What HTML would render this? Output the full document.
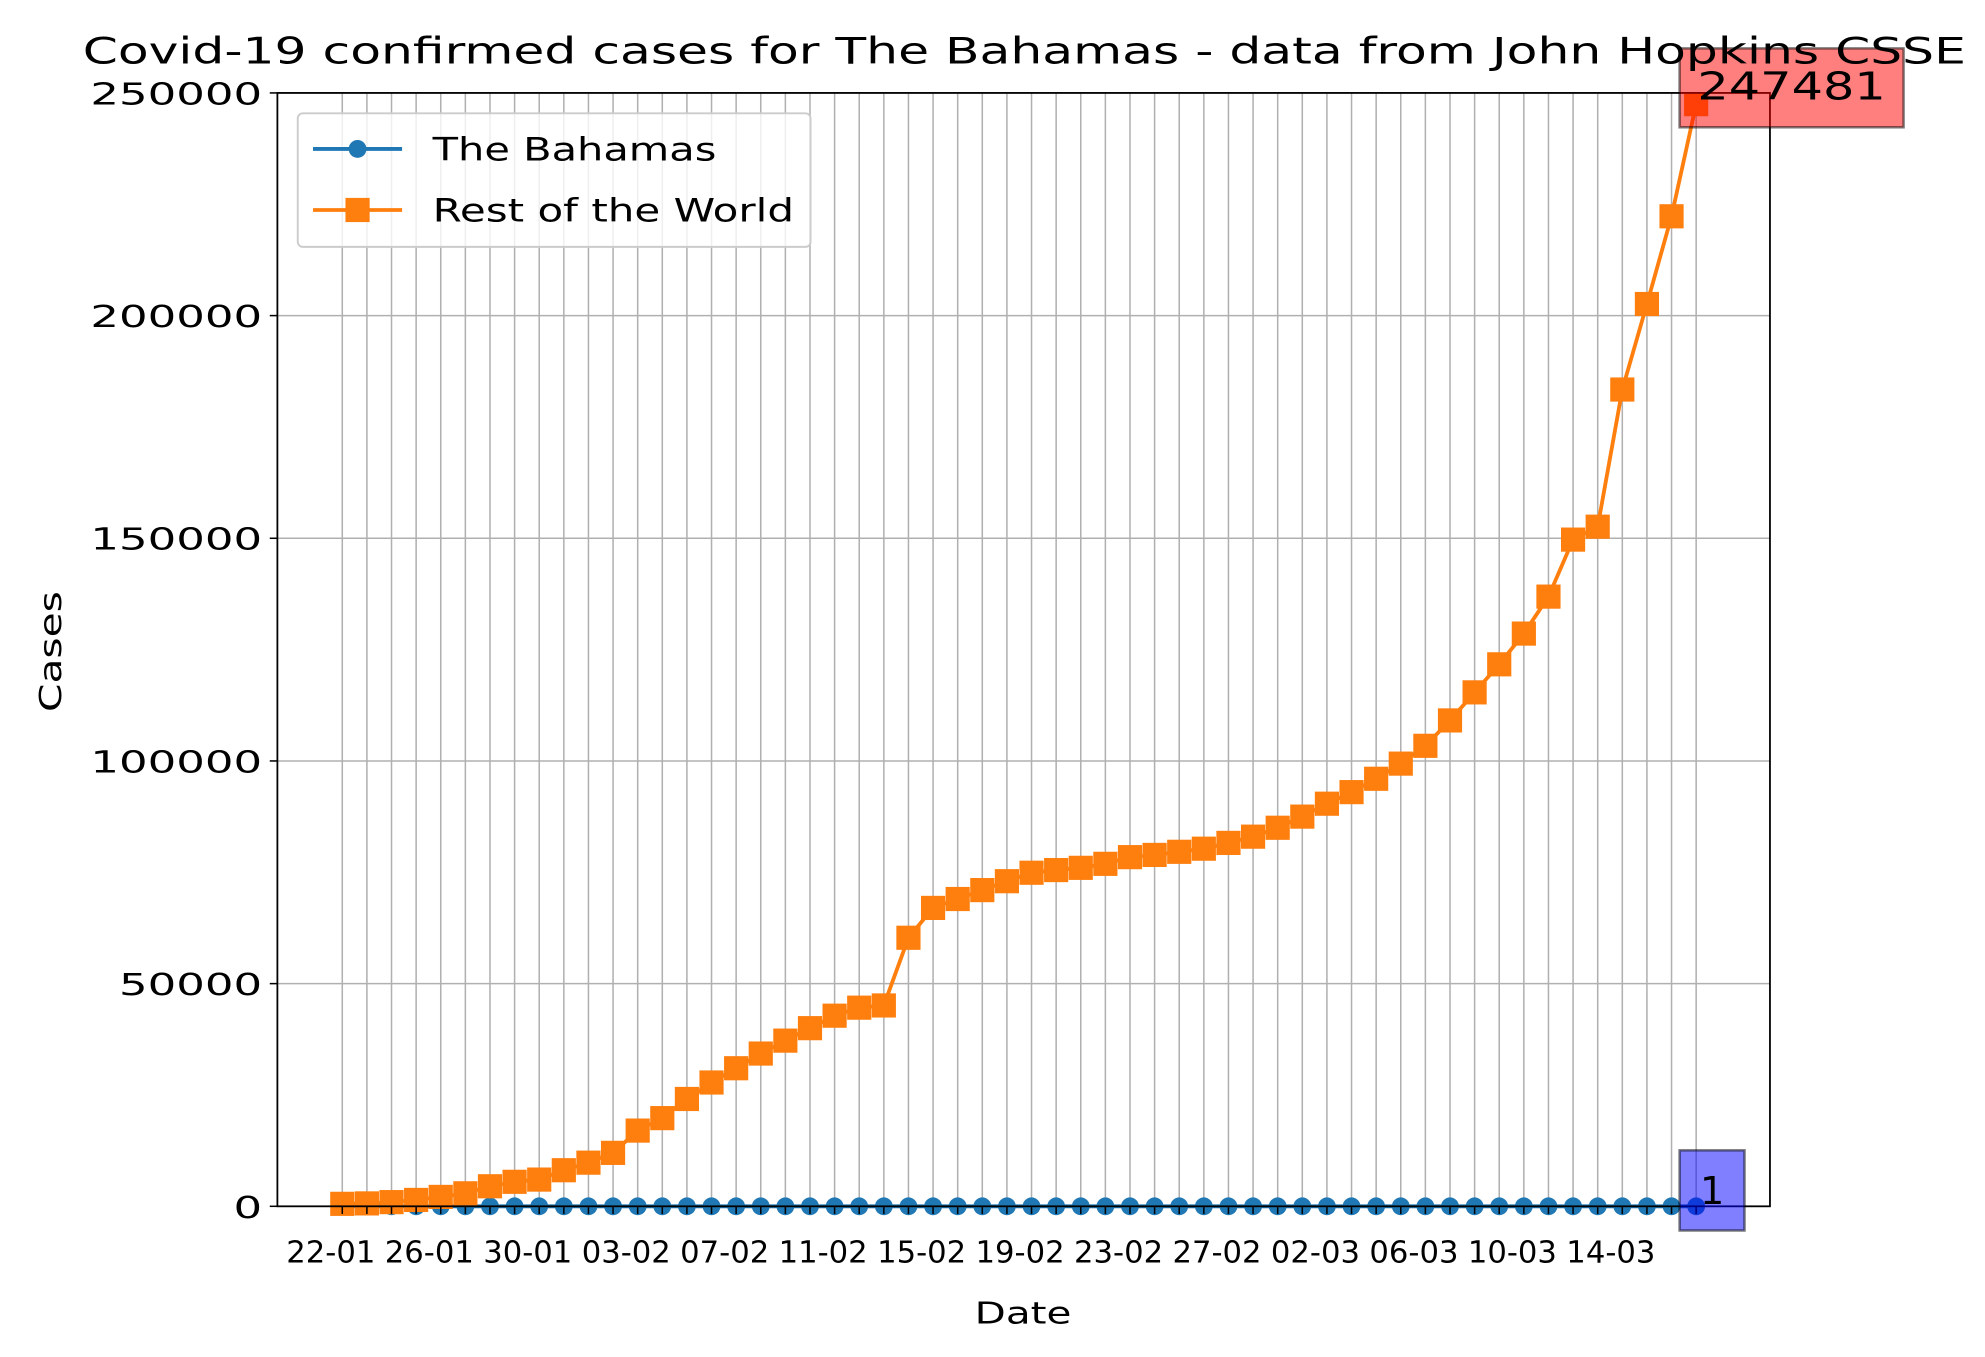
<!DOCTYPE html>
<html><head><meta charset="utf-8"><style>html,body{margin:0;padding:0;background:#fff}svg{display:block}text{font-family:"DejaVu Sans","Liberation Sans",sans-serif}</style></head>
<body>
<svg id="chart" width="1985" height="1357" viewBox="0 0 1560 1066.4" xmlns="http://www.w3.org/2000/svg">
<rect width="1560" height="1067" fill="#fff"/>
<g id="grid"></g>
<g id="series"></g>
<g id="axes"></g>
</svg>
<script>
const dates = [];
const bahamas = [];
const restOfWorld = [555,650,940,1430,2110,2920,4500,5500,6000,8100,9800,12000,17000,19800,24100,27800,31000,34300,37200,40000,42800,44600,45100,60300,67000,69000,71000,73000,74900,75500,76000,76900,78400,78900,79600,80300,81600,83000,85000,87500,90400,93000,96000,99400,103400,109100,115400,121700,128600,136900,149700,152600,183400,202600,222300,247481];
const yTicks = [0,50000,100000,150000,200000,250000];
(function(){const d=new Date(2020,0,22);for(let i=0;i<56;i++){const x=new Date(d.getTime()+i*86400000);dates.push(String(x.getDate()).padStart(2,'0')+'-'+String(x.getMonth()+1).padStart(2,'0'));bahamas.push(i===55?1:0);}})();
const L=218,R=1391,T=73,B=948;
const n=dates.length;
const X=i=>269+i*(1333-269)/(n-1);
const Y=v=>B-v/250000*(B-T);
const NS='http://www.w3.org/2000/svg';
function mk(tag,attrs,parent,txt){const e=document.createElementNS(NS,tag);for(const k in attrs)e.setAttribute(k,attrs[k]);if(txt!==undefined)e.textContent=txt;parent.appendChild(e);return e;}
const grid=document.getElementById('grid'),series=document.getElementById('series'),axes=document.getElementById('axes');
dates.forEach((d,i)=>{const l=mk('line',{x1:X(i),x2:X(i),y1:T,y2:B,stroke:'#b0b0b0','stroke-width':1.2},grid);


const t=mk('line',{x1:X(i),x2:X(i),y1:B,y2:B+6,stroke:'#000','stroke-width':1.2},axes);


if(i%4===0){const tx=mk('text',{x:X(i)-9,y:B+44,'text-anchor':'middle','font-size':24,textLength:70,lengthAdjust:'spacingAndGlyphs'},axes,d);

}});
yTicks.forEach(v=>{const l=mk('line',{x1:L,x2:R,y1:Y(v),y2:Y(v),stroke:'#b0b0b0','stroke-width':1.2},grid);


mk('line',{x1:L-6,x2:L,y1:Y(v),y2:Y(v),stroke:'#000','stroke-width':1.2},axes);
const s=String(v);
const tx=mk('text',{x:L-12,y:Y(v)+9,'text-anchor':'end','font-size':24,textLength:s.length*22.5,lengthAdjust:'spacingAndGlyphs'},axes,s);

});
const bp=mk('polyline',{points:bahamas.map((v,i)=>X(i)+','+Y(v)).join(' '),fill:'none',stroke:'#1f77b4','stroke-width':3},series);


bahamas.forEach((v,i)=>{const c=mk('circle',{cx:X(i),cy:Y(v),r:7,fill:'#1f77b4'},series);

});
const rp=mk('polyline',{points:restOfWorld.map((v,i)=>X(i)+','+Y(v)).join(' '),fill:'none',stroke:'#ff7f0e','stroke-width':3},series);


restOfWorld.forEach((v,i)=>{const s=mk('rect',{x:X(i)-9.5,y:Y(v)-9.5,width:19,height:19,fill:'#ff7f0e'},series);

});
const fr=mk('rect',{x:L,y:T,width:R-L,height:B-T,fill:'none',stroke:'#000','stroke-width':1.4},axes);


const last=n-1;
const rb=mk('rect',{x:X(last)-13,y:38,width:176,height:62,fill:'rgba(255,0,0,0.5)',stroke:'rgba(0,0,0,0.5)','stroke-width':2},axes);


const rt=mk('text',{x:X(last)+1,y:78,'font-size':30,textLength:148,lengthAdjust:'spacingAndGlyphs'},axes,String(restOfWorld[last]));


const bb=mk('rect',{x:X(last)-13,y:904,width:51,height:63,fill:'rgba(0,0,255,0.5)',stroke:'rgba(0,0,0,0.5)','stroke-width':2},axes);


const bt=mk('text',{x:X(last)+3,y:946,'font-size':30},axes,String(bahamas[last]));


</script>
<svg style="position:absolute;left:0;top:0" width="1985" height="1357" viewBox="0 0 1560 1066.4" xmlns="http://www.w3.org/2000/svg">
<text x="805" y="50" text-anchor="middle" font-size="29" textLength="1480" lengthAdjust="spacingAndGlyphs" font-family="DejaVu Sans, Liberation Sans, sans-serif">Covid-19 confirmed cases for The Bahamas - data from John Hopkins CSSE</text>
<text x="804" y="1040" text-anchor="middle" font-size="24" textLength="76" lengthAdjust="spacingAndGlyphs" font-family="DejaVu Sans, Liberation Sans, sans-serif">Date</text>
<text transform="translate(48,512) rotate(-90)" text-anchor="middle" font-size="24" textLength="95" lengthAdjust="spacingAndGlyphs" font-family="DejaVu Sans, Liberation Sans, sans-serif">Cases</text>
<g>
<rect x="234" y="89" width="403" height="105" rx="4" fill="rgba(255,255,255,0.8)" stroke="#ccc" stroke-width="1.5"/>
<line x1="246" x2="316" y1="117" y2="117" stroke="#1f77b4" stroke-width="3"/>
<circle cx="281" cy="117" r="7" fill="#1f77b4"/>
<text x="340" y="126" font-size="25" textLength="223" lengthAdjust="spacingAndGlyphs" font-family="DejaVu Sans, Liberation Sans, sans-serif">The Bahamas</text>
<line x1="246" x2="316" y1="165" y2="165" stroke="#ff7f0e" stroke-width="3"/>
<rect x="271.5" y="155.5" width="19" height="19" fill="#ff7f0e"/>
<text x="340" y="174" font-size="25" textLength="284" lengthAdjust="spacingAndGlyphs" font-family="DejaVu Sans, Liberation Sans, sans-serif">Rest of the World</text>
</g>
</svg>
</body></html>
